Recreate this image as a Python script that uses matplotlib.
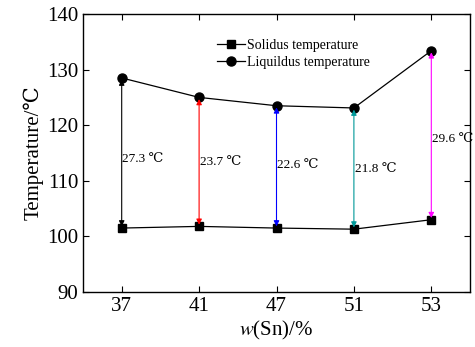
import numpy as np
import matplotlib
matplotlib.use("Agg")
import matplotlib.pyplot as plt

plt.rcParams['font.family'] = ['Liberation Serif', 'DejaVu Serif']
plt.rcParams['mathtext.fontset'] = 'stix'

# data
sn_labels = ['37', '41', '47', '51', '53']
solidus = [101.5, 101.8, 101.5, 101.3, 103.0]
liquidus = [128.5, 125.0, 123.5, 123.1, 133.4]
gap_labels = ['27.3 ℃', '23.7 ℃', '22.6 ℃', '21.8 ℃', '29.6 ℃']
gap_text_y = [114.0, 113.3, 112.8, 112.2, 117.6]
arrow_colors = ['black', 'red', 'blue', '#009999', 'magenta']

x = np.arange(1, len(sn_labels) + 1)

fig = plt.figure(figsize=(4.75, 3.47), dpi=100)
ax = fig.add_axes([83 / 475, 1 - 292 / 347, (470 - 83) / 475, (292 - 14) / 347])

ax.plot(x, solidus, color='black', lw=0.9, marker='s', ms=6, label='Solidus temperature')
ax.plot(x, liquidus, color='black', lw=0.9, marker='o', ms=6.5, label='Liquildus temperature')

for xi, lo, hi, c, txt, ty in zip(x, solidus, liquidus, arrow_colors, gap_labels, gap_text_y):
    ax.annotate('', xy=(xi, hi - 0.3), xytext=(xi, lo + 0.3),
                arrowprops=dict(arrowstyle='<|-|>', color=c, lw=0.8,
                                mutation_scale=8, shrinkA=0, shrinkB=0))
    ax.text(xi + 0.01, ty, txt, fontsize=9.5, ha='left', va='center')

ax.set_xlim(0.5, 5.5)
ax.set_ylim(90, 140)
ax.set_xticks(x)
ax.set_xticklabels(sn_labels)
ax.set_yticks(np.arange(90, 141, 10))
ax.tick_params(direction='in', labelsize=15, top=True, right=True, length=4, width=0.8)
ax.set_ylabel('Temperature/℃', fontsize=15, labelpad=2)
ax.set_xlabel('$w$(Sn)/%', fontsize=15, labelpad=2)
for s in ax.spines.values():
    s.set_linewidth(1.0)

ax.legend(loc='upper left', bbox_to_anchor=(0.317, 0.95), frameon=False, fontsize=10,
          handlelength=2.0, handletextpad=0.2, labelspacing=0.3, borderpad=0.3)

fig.savefig('out.png', dpi=100)
